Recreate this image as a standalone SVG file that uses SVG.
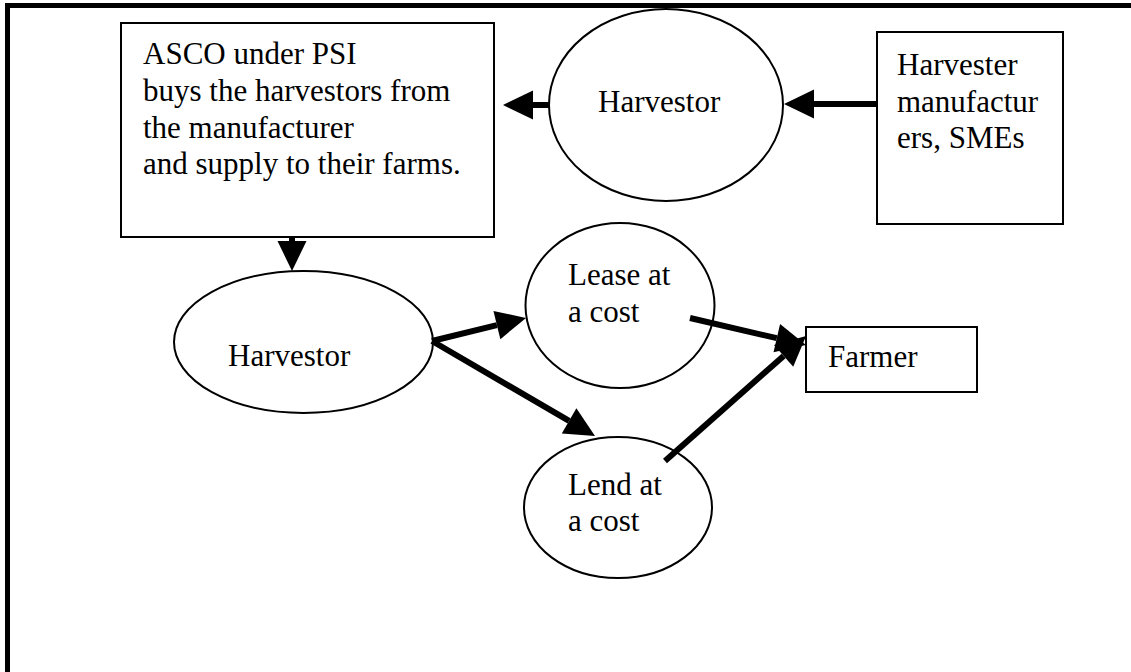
<svg xmlns="http://www.w3.org/2000/svg" width="1131" height="672" viewBox="0 0 1131 672">
  <style>
    .shape { fill: #ffffff; stroke: #000000; stroke-width: 2; }
    .label { font-family: "Liberation Serif", "Times New Roman", serif; font-size: 31px; fill: #000000; }
    .conn { fill: none; stroke: #000000; stroke-width: 6; }
    .frame { stroke: #000000; stroke-width: 5; fill: none; }
  </style>
  <defs>
    <marker id="head" markerUnits="userSpaceOnUse" markerWidth="32" markerHeight="32" refX="0" refY="0" viewBox="0 -16 32 32" orient="auto" overflow="visible">
      <path d="M0,-14.5 L30,0 L0,14.5 Z" fill="#000000"/>
    </marker>
  </defs>

  <rect width="1131" height="672" fill="#ffffff"/>

  <!-- page frame -->
  <g id="frame">
    <line class="frame" x1="5" y1="5.5" x2="1131" y2="5.5"/>
    <line class="frame" x1="7.5" y1="3" x2="7.5" y2="672"/>
  </g>

  <!-- nodes -->
  <g id="asco">
    <rect class="shape" x="121" y="23" width="373" height="214"/>
    <text class="label" x="143" y="64">ASCO under PSI</text>
    <text class="label" x="143" y="101">buys the harvestors from</text>
    <text class="label" x="143" y="138">the manufacturer</text>
    <text class="label" x="143" y="174">and supply to their farms.</text>
  </g>

  <g id="harvestor-top">
    <ellipse class="shape" cx="666" cy="105" rx="117" ry="96"/>
    <text class="label" x="598" y="112">Harvestor</text>
  </g>

  <g id="manufacturers">
    <rect class="shape" x="877" y="32" width="186" height="192"/>
    <text class="label" x="897" y="75">Harvester</text>
    <text class="label" x="897" y="112">manufactur</text>
    <text class="label" x="897" y="148">ers, SMEs</text>
  </g>

  <g id="harvestor-bottom">
    <ellipse class="shape" cx="303.5" cy="342" rx="129.5" ry="71"/>
    <text class="label" x="228" y="366">Harvestor</text>
  </g>

  <g id="lease">
    <ellipse class="shape" cx="620" cy="305.5" rx="94.5" ry="82.5"/>
    <text class="label" x="568" y="285">Lease at</text>
    <text class="label" x="568" y="322">a cost</text>
  </g>

  <g id="lend">
    <ellipse class="shape" cx="618" cy="507.5" rx="94" ry="70.5"/>
    <text class="label" x="568" y="495">Lend at</text>
    <text class="label" x="568" y="531">a cost</text>
  </g>

  <g id="farmer">
    <rect class="shape" x="806" y="327" width="171" height="65"/>
    <text class="label" x="828" y="367">Farmer</text>
  </g>

  <!-- connectors -->
  <g id="connectors">
    <path class="conn" d="M549,105 L533,105" marker-end="url(#head)"/>
    <path class="conn" d="M876,104 L814,104" marker-end="url(#head)"/>
    <path class="conn" d="M292,236 L292,241" marker-end="url(#head)"/>
    <path class="conn" d="M432,341 L496.9,325.1" marker-end="url(#head)"/>
    <path class="conn" d="M432,341 L569.1,420.9" marker-end="url(#head)"/>
    <path class="conn" d="M690,318 L776.8,338.2" marker-end="url(#head)"/>
    <path class="conn" d="M665,461 L783.6,355.9" marker-end="url(#head)"/>
  </g>
</svg>
